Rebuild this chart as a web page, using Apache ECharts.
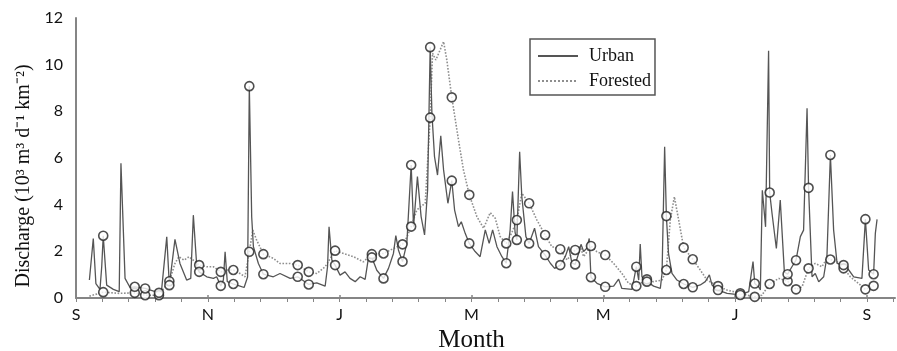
<!DOCTYPE html>
<html>
<head>
<meta charset="utf-8">
<script src="https://cdn.jsdelivr.net/npm/echarts@6/dist/echarts.min.js"></script>
<style>
  html, body { margin: 0; padding: 0; background: #fff; }
  #chart { width: 897px; height: 351px; }
</style>
</head>
<body>
<div id="chart"></div>
<script>
// Water year, day 0 = 1 September. Month ticks every 61 days.
const monthTicks = [0, 61, 122, 183, 244, 305, 366];
const monthLabels = ['S', 'N', 'J', 'M', 'M', 'J', 'S'];

// Sampling days (circles) with discharge of both streams on those days
const sampleDay = [12.6, 27.2, 32.0, 38.4, 43.2, 57.0, 67.0, 72.8, 80.2, 86.7, 102.6, 107.7, 119.9, 136.9, 142.3,
  151.1, 155.1, 163.9, 173.9, 182.0, 199.1, 204.0, 209.7, 217.1, 224.1, 231.0, 238.3, 244.9, 259.3, 264.2,
  273.2, 281.2, 285.4, 297.1, 307.4, 314.1, 321.0, 329.3, 333.2, 339.0, 349.1, 355.2, 365.3, 369.1];
const urbanSample = [2.67, 0.48, 0.41, 0.22, 0.55, 1.12, 0.52, 0.60, 9.08, 1.02, 0.91, 0.58, 1.41, 1.74, 0.84,
  1.56, 5.70, 10.75, 5.03, 2.34, 1.49, 2.49, 2.34, 1.84, 1.41, 1.44, 0.89, 0.48, 1.34, 0.70,
  3.51, 0.60, 0.46, 0.34, 0.13, 0.62, 4.52, 1.02, 1.62, 4.72, 6.13, 1.41, 3.38, 1.02];
const forestSample = [0.25, 0.22, 0.12, 0.12, 0.72, 1.41, 1.12, 1.20, 1.98, 1.88, 1.41, 1.12, 2.03, 1.88, 1.91,
  2.30, 3.06, 7.73, 8.60, 4.42, 2.34, 3.34, 4.06, 2.70, 2.09, 2.06, 2.23, 1.84, 0.51, 0.80,
  1.20, 2.16, 1.66, 0.51, 0.20, 0.05, 0.60, 0.72, 0.37, 1.27, 1.65, 1.27, 0.37, 0.52];

// Continuous hydrograph between sampling days — urban stream
const urbanDay = [6.2, 8.0, 9.2, 11.1, 11.9, 14.2, 17.3, 20.0, 20.8, 22.7, 25.0, 39.6, 42.0, 45.8, 48.1,
  51.2, 53.1, 54.3, 55.9, 60.5, 63.6, 65.1, 68.2, 69.0, 70.0, 75.9, 77.8, 79.4, 81.3, 82.1,
  84.4, 91.3, 94.4, 99.1, 111.4, 115.3, 116.4, 117.1, 118.4, 122.2, 124.5, 126.8, 129.2, 131.5, 133.8,
  135.3, 139.2, 144.6, 146.9, 148.0, 149.2, 153.1, 156.2, 158.0, 159.7, 161.3, 162.7, 164.7, 165.9, 167.3,
  168.8, 170.1, 172.1, 175.2, 177.0, 178.3, 180.1, 184.7, 187.0, 189.4, 191.2, 192.8, 194.8, 197.1, 200.9,
  202.0, 203.2, 205.3, 206.3, 208.2, 212.2, 214.0, 219.5, 221.5, 226.4, 228.0, 229.5, 232.6, 233.7, 234.9,
  236.4, 237.5, 241.1, 248.8, 251.1, 252.6, 257.3, 260.4, 261.1, 261.9, 267.3, 270.4, 271.2, 272.4, 274.2,
  275.8, 278.1, 288.9, 291.2, 293.1, 294.3, 301.3, 311.3, 313.3, 315.9, 316.7, 317.6, 318.5, 319.1, 320.5,
  322.1, 324.1, 325.9, 327.8, 331.3, 335.2, 336.7, 338.3, 340.6, 342.1, 343.7, 346.0, 347.5, 350.6, 352.2,
  357.6, 359.9, 363.7, 366.8, 369.9, 370.7];
const urbanQ = [0.77, 2.55, 0.62, 0.37, 1.34, 0.55, 0.37, 0.27, 5.77, 0.84, 0.45, 0.34, 2.62, 2.51, 1.48,
  0.77, 0.84, 3.55, 1.34, 0.91, 0.84, 0.91, 0.77, 1.98, 0.70, 0.51, 0.45, 0.90, 3.48, 2.20,
  1.48, 0.91, 1.05, 0.84, 0.65, 0.51, 1.34, 3.05, 1.62, 0.98, 1.12, 0.84, 0.70, 0.91, 0.80,
  1.70, 1.19, 1.27, 1.91, 2.67, 2.06, 2.34, 3.06, 5.20, 3.49, 2.70, 4.63, 7.92, 6.06, 5.27,
  6.95, 5.49, 4.06, 3.77, 3.06, 3.27, 2.77, 1.99, 1.77, 2.92, 2.34, 2.92, 2.20, 1.77, 2.92,
  4.56, 2.80, 6.27, 4.35, 2.63, 2.99, 2.20, 1.49, 1.27, 1.77, 2.20, 1.49, 1.91, 2.30, 1.99,
  2.13, 2.55, 0.63, 0.51, 0.81, 0.41, 0.37, 0.77, 2.31, 0.91, 0.51, 0.41, 1.06, 6.48, 1.90,
  1.06, 0.77, 0.56, 0.70, 0.99, 0.56, 0.20, 0.27, 1.56, 0.48, 0.34, 4.62, 4.62, 3.05, 10.60,
  3.62, 2.12, 4.20, 1.12, 1.34, 2.63, 2.91, 8.13, 0.91, 1.05, 0.70, 0.91, 1.77, 2.91, 1.48,
  1.20, 0.91, 0.84, 1.20, 2.77, 3.37];

// Continuous hydrograph between sampling days — forested stream
const forestDay = [6.2, 20.0, 40.0, 45.8, 47.6, 50.0, 52.3, 54.3, 60.5, 63.6, 69.8, 75.9, 78.2, 81.8, 83.6,
  91.3, 94.4, 99.1, 111.4, 115.3, 123.8, 128.4, 133.0, 146.9, 153.1, 157.7, 161.6, 162.7, 165.0, 166.5,
  168.5, 170.1, 171.6, 177.0, 179.3, 185.5, 188.6, 191.7, 194.0, 196.3, 201.7, 206.3, 213.3, 220.2, 227.2,
  233.4, 234.9, 241.1, 248.8, 252.6, 255.7, 267.3, 271.2, 275.0, 276.9, 278.9, 288.9, 292.0, 301.3, 310.5,
  317.4, 325.2, 336.0, 342.1, 345.2, 347.5, 352.2, 358.3, 362.2];
const forestQ = [0.08, 0.20, 0.34, 1.48, 1.77, 1.62, 1.77, 1.62, 1.34, 1.34, 1.20, 1.05, 0.91, 2.91, 2.48,
  1.70, 1.48, 1.48, 1.05, 1.34, 1.91, 1.77, 1.55, 2.12, 2.60, 3.77, 4.06, 5.80, 10.49, 10.20,
  10.63, 10.99, 10.20, 6.77, 5.49, 3.49, 2.99, 3.66, 3.42, 2.63, 2.80, 4.49, 3.34, 2.20, 1.63,
  2.20, 1.77, 1.98, 1.48, 1.06, 0.63, 0.70, 0.77, 3.34, 4.34, 3.34, 1.20, 0.77, 0.34, 0.12,
  0.12, 0.84, 0.48, 1.48, 1.34, 1.70, 1.55, 0.91, 0.62];

const XMAX = 379;

function pairs(xs, ys) { return xs.map((x, i) => [x, ys[i]]); }
// The hydrograph passes through each sampled value
function hydrograph(days, q, sDays, sQ) {
  return pairs(days, q).concat(pairs(sDays, sQ)).sort((a, b) => a[0] - b[0]);
}

const minorStep = 61 / 5;
const tickValues = [];
for (let i = 0; i * minorStep <= XMAX; i++) tickValues.push(Math.round(i * minorStep * 100) / 100);

const axisGray = '#858585';
const chart = echarts.init(document.getElementById('chart'));
chart.setOption({
  animation: false,
  backgroundColor: '#fff',
  grid: { left: 76, right: 2, top: 18, bottom: 53, outerBoundsMode: 'none' },
  legend: {
    data: ['Urban', 'Forested'],
    orient: 'vertical',
    left: 530,
    top: 39,
    padding: [8, 4, 5, 7],
    itemWidth: 40,
    itemHeight: 14,
    itemGap: 7,
    itemStyle: { opacity: 0 },
    borderColor: '#555',
    borderWidth: 1.5,
    textStyle: { fontFamily: 'Liberation Serif', fontSize: 18, color: '#111', padding: [0, 0, 0, 6] }
  },
  xAxis: [{
    type: 'value', min: 0, max: XMAX,
    axisLine: { show: true, onZero: false, lineStyle: { color: axisGray, width: 2 } },
    axisTick: { show: true, customValues: tickValues, length: 4, lineStyle: { color: axisGray, width: 1 } },
    axisLabel: {
      customValues: monthTicks,
      formatter: v => { const i = monthTicks.indexOf(v); return i >= 0 ? monthLabels[i] : ''; },
      fontFamily: 'Lato', fontSize: 16, color: '#111', margin: 9
    },
    splitLine: { show: false },
    name: 'Month', nameLocation: 'middle', nameGap: 28,
    nameTextStyle: { fontFamily: 'Liberation Serif', fontSize: 25, color: '#111', padding: [0, 28, 0, 0] }
  }, {
    type: 'value', min: 0, max: XMAX, position: 'bottom',
    axisLine: { show: false, onZero: false },
    axisTick: { show: true, inside: true, customValues: monthTicks, length: 3, lineStyle: { color: axisGray, width: 1.5 } },
    axisLabel: { show: false },
    splitLine: { show: false }
  }],
  yAxis: {
    type: 'value', min: 0, max: 12, interval: 2,
    axisLine: { show: true, lineStyle: { color: axisGray, width: 2 } },
    axisTick: { show: false },
    splitLine: { show: false },
    axisLabel: { fontFamily: 'Lato', fontSize: 16, color: '#111', margin: 13 },
    name: 'Discharge (10³ m³ d⁻¹ km⁻²)', nameLocation: 'middle', nameGap: 37,
    nameTextStyle: { fontFamily: 'Liberation Serif', fontSize: 20, color: '#111', padding: [0, 36, 0, 0] }
  },
  series: [
    {
      name: 'Forested', type: 'line', xAxisIndex: 0,
      data: hydrograph(forestDay, forestQ, sampleDay, forestSample),
      symbol: 'none', z: 2,
      lineStyle: { color: '#8e8e8e', width: 1.6, type: 'dotted' },
      itemStyle: { color: '#8e8e8e' }
    },
    {
      name: 'Urban', type: 'line', xAxisIndex: 0,
      data: hydrograph(urbanDay, urbanQ, sampleDay, urbanSample),
      symbol: 'none', z: 3,
      lineStyle: { color: '#555', width: 1.3 },
      itemStyle: { color: '#555' }
    },
    {
      type: 'scatter', xAxisIndex: 0, data: pairs(sampleDay, forestSample),
      symbol: 'circle', symbolSize: 9, z: 5,
      itemStyle: { color: '#fff', borderColor: '#222', borderWidth: 1.6 }
    },
    {
      type: 'scatter', xAxisIndex: 0, data: pairs(sampleDay, urbanSample),
      symbol: 'circle', symbolSize: 9, z: 5,
      itemStyle: { color: '#fff', borderColor: '#222', borderWidth: 1.6 }
    }
  ]
});
</script>
</body>
</html>
